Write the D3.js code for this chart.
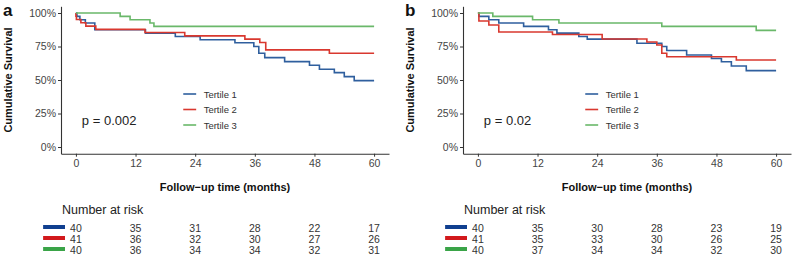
<!DOCTYPE html>
<html>
<head>
<meta charset="utf-8">
<script src="https://cdn.jsdelivr.net/npm/d3@7"></script>
<style>
  body { margin: 0; background: #fff; }
  text { font-family: "Liberation Sans", Arial, sans-serif; }
</style>
</head>
<body>
<div id="chart"></div>
<script>
// survival curves, [month, survival]
const a_tertile1 = [[0,1],[0.2,0.975],[0.8,0.95],[1.9,0.925],[3.8,0.875],[14,0.85],[20,0.825],[25,0.80],[32,0.778],[35.8,0.75],[36.8,0.70],[38,0.667],[42,0.637],[47,0.61],[49,0.58],[52,0.555],[54,0.525],[56,0.495],[60,0.495]];
const a_tertile2 = [[0,1],[0,0.976],[0.1,0.951],[1,0.927],[2,0.902],[4,0.878],[13.9,0.854],[21.9,0.829],[34,0.805],[37,0.78],[38.2,0.725],[51,0.70],[60,0.70]];
const a_tertile3 = [[0,1],[8.9,0.975],[10.9,0.95],[14.9,0.925],[15.7,0.90],[60,0.90]];

const b_tertile1 = [[0,1],[0.2,0.975],[2.2,0.95],[4.2,0.925],[9.2,0.90],[14.2,0.875],[15.9,0.85],[20.3,0.825],[22,0.805],[32,0.774],[37,0.75],[38,0.72],[42,0.687],[47,0.66],[49,0.636],[51,0.604],[54,0.57],[60,0.57]];
const b_tertile2 = [[0,1],[0.2,0.94],[2.2,0.91],[4.2,0.858],[15,0.84],[25,0.806],[34,0.784],[36,0.761],[37,0.70],[38,0.674],[52,0.649],[60,0.649]];
const b_tertile3 = [[0,1],[3,0.975],[11,0.95],[16.3,0.925],[37,0.90],[56,0.87],[60,0.87]];

const timeTicks = [0, 12, 24, 36, 48, 60];
const survTicks = [0, 0.25, 0.5, 0.75, 1];
const groups = ["Tertile 1", "Tertile 2", "Tertile 3"];

const a_risk = [[40,35,31,28,22,17],[41,36,32,30,27,26],[40,36,34,34,32,31]];
const b_risk = [[40,35,30,28,23,19],[41,35,33,30,26,25],[40,37,34,34,32,30]];

const lineColors = ["#2f5f9e", "#d9382f", "#6ab86a"];
const tableColors = ["#103f8f", "#d2191c", "#3aa448"];

const svg = d3.select("#chart").append("svg")
  .attr("width", 797).attr("height", 258);

function panel(ox, label, curves, risk, pText)
{
  const x = d3.scaleLinear().domain([-3, 63]).range([ox + 61, ox + 389]);
  const y = d3.scaleLinear().domain([-0.05, 1.05]).range([153.7, 6.3]);
  const g = svg.append("g");

  g.append("text")
    .attr("x", ox + 3).attr("y", 16)
    .attr("font-size", "17px").attr("font-weight", "bold")
    .attr("fill", "#111")
    .text(label);

  // axes
  const xa = g.append("g")
    .attr("transform", `translate(0,${y(-0.05)})`)
    .call(d3.axisBottom(x).tickValues(timeTicks).tickSize(3).tickSizeOuter(0).tickPadding(3));
  const ya = g.append("g")
    .attr("transform", `translate(${x(-3)},0)`)
    .call(d3.axisLeft(y).tickValues(survTicks).tickSize(3).tickSizeOuter(0).tickPadding(2)
      .tickFormat(d => Math.round(d * 100) + "%"));
  [xa, ya].forEach(a => {
    a.select(".domain").attr("stroke", "#333").attr("stroke-width", 1.1);
    a.selectAll(".tick line").attr("stroke", "#333");
    a.selectAll(".tick text").attr("font-size", "10.5px").attr("fill", "#444")
      .attr("font-family", "Liberation Sans, Arial, sans-serif");
  });

  g.append("text")
    .attr("transform", `translate(${ox + 12},${y(0.5)}) rotate(-90)`)
    .attr("text-anchor", "middle")
    .attr("font-size", "11px").attr("font-weight", "bold").attr("fill", "#111")
    .text("Cumulative Survival");

  g.append("text")
    .attr("x", (x(0) + x(60)) / 2).attr("y", 191)
    .attr("text-anchor", "middle")
    .attr("font-size", "11px").attr("font-weight", "bold").attr("fill", "#111")
    .text("Follow\u2212up time (months)");

  // curves
  const line = d3.line()
    .x(d => x(d[0])).y(d => y(d[1]))
    .curve(d3.curveStepAfter);
  curves.forEach((c, i) => {
    g.append("path")
      .datum(c)
      .attr("d", line)
      .attr("fill", "none")
      .attr("stroke", lineColors[i])
      .attr("stroke-width", 1.6);
  });

  g.append("text")
    .attr("x", x(1.2)).attr("y", 125)
    .attr("font-size", "13px").attr("fill", "#222")
    .text(pText);

  // legend
  groups.forEach((name, i) => {
    const ly = 94 + i * 15.5;
    g.append("line")
      .attr("x1", x(21.6)).attr("x2", x(24.2))
      .attr("y1", ly).attr("y2", ly)
      .attr("stroke", lineColors[i]).attr("stroke-width", 1.6);
    g.append("text")
      .attr("x", x(25.7)).attr("y", ly + 3.5)
      .attr("font-size", "9.5px").attr("fill", "#333")
      .text(name);
  });

  // number at risk table
  g.append("text")
    .attr("x", x(-2.8)).attr("y", 214)
    .attr("font-size", "12.5px").attr("fill", "#222")
    .text("Number at risk");

  risk.forEach((row, i) => {
    const ry = 228 + i * 11;
    g.append("line")
      .attr("x1", x(-6.6)).attr("x2", x(-2.2))
      .attr("y1", ry - 1).attr("y2", ry - 1)
      .attr("stroke", tableColors[i]).attr("stroke-width", 4);
    g.selectAll(null)
      .data(row)
      .enter()
      .append("text")
        .attr("x", (d, j) => x(timeTicks[j]))
        .attr("y", ry + 3.5)
        .attr("text-anchor", "middle")
        .attr("font-size", "10.5px").attr("fill", "#333")
        .text(d => d);
  });
}

panel(0, "a", [a_tertile1, a_tertile2, a_tertile3], a_risk, "p = 0.002");
panel(402, "b", [b_tertile1, b_tertile2, b_tertile3], b_risk, "p = 0.02");
</script>
</body>
</html>
